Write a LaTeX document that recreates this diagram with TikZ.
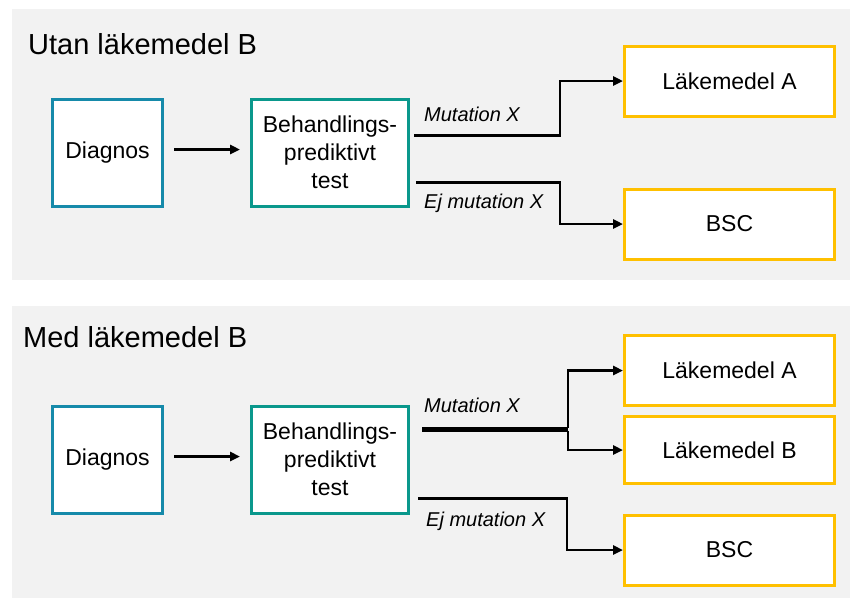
\documentclass[tikz,border=0pt]{standalone}
\usepackage{fontspec}
\setmainfont{Liberation Sans}
\usetikzlibrary{arrows.meta}
\definecolor{panelgray}{RGB}{242,242,242}
\definecolor{diagblue}{RGB}{22,138,170}
\definecolor{testteal}{RGB}{10,152,140}
\definecolor{drugyellow}{RGB}{255,192,0}
\begin{document}
\begin{tikzpicture}[x=1pt, y=-1pt]
        \tikzstyle{box}=[rectangle, draw, fill=white, line width=3pt, inner sep=2pt, font=\fontsize{23}{28}\selectfont, align=center]
        \tikzstyle{diagbox}=[box, draw=diagblue, minimum width=110pt, minimum height=107pt]
        \tikzstyle{testbox}=[box, draw=testteal, minimum width=157pt, minimum height=107pt]
        \tikzstyle{drugbox}=[box, draw=drugyellow, minimum width=210pt, minimum height=70pt]
        \tikzstyle{conn}=[line width=2.8pt, -{Triangle[length=10pt, width=9pt]}]
        \tikzstyle{lbl}=[anchor=west, inner sep=0pt, font=\fontsize{20}{24}\selectfont\itshape]
        \tikzstyle{title}=[anchor=base west, inner sep=0pt, font=\fontsize{29}{34}\selectfont]
        \useasboundingbox (0,0) rectangle (850,598);
        \fill[white] (0,0) rectangle (850,598);
        \fill[panelgray] (12,9) rectangle (850,280);
        \fill[panelgray] (12,306) rectangle (850,598);
        % utan
        \node [title] (title1) at (28,54) {Utan läkemedel B};
        \node [diagbox] (diag1) at (107.5,152.5) {Diagnos};
        \node [testbox] (test1) at (330,152.5) {Behandlings-\\prediktivt\\test};
        \node [drugbox] (drugA1) at (729.5,81) {Läkemedel A};
        \node [drugbox] (bsc1) at (729.5,224) {BSC};
        \node [lbl] (mut1) at (424,114) {Mutation X};
        \node [lbl] (ej1) at (424,203) {Ej mutation X};
        \draw [conn, shorten <=10pt, shorten >=10pt] ([yshift=3pt]diag1.east) -- ([yshift=3pt]test1.west);
        \draw [conn] ([xshift=4pt, yshift=17pt]test1.east) -- ++(146,0) |- (drugA1.west);
        \draw [conn] ([xshift=6pt, yshift=-30pt]test1.east) -- ++(144,0) |- (bsc1.west);
        % med
        \node [title] (title2) at (23,347) {Med läkemedel B};
        \node [diagbox] (diag2) at (107.5,459.5) {Diagnos};
        \node [testbox] (test2) at (330,459.5) {Behandlings-\\prediktivt\\test};
        \node [drugbox] (drugA2) at (729.5,370.5) {Läkemedel A};
        \node [drugbox, minimum height=67pt] (drugB2) at (729.5,450) {Läkemedel B};
        \node [drugbox] (bsc2) at (729.5,550) {BSC};
        \node [lbl] (mut2) at (424,405) {Mutation X};
        \node [lbl] (ej2) at (426,521) {Ej mutation X};
        \draw [conn, shorten <=10pt, shorten >=10pt] ([yshift=3pt]diag2.east) -- ([yshift=3pt]test2.west);
        \draw [line width=4.5pt] ([xshift=12pt, yshift=30pt]test2.east) -- ++(146,0) coordinate (split2);
        \draw [conn] ([yshift=1.2pt]split2) |- (drugA2.west);
        \draw [conn] ([yshift=-1.2pt]split2) |- (drugB2.west);
        \draw [conn] ([xshift=8pt, yshift=-39pt]test2.east) -- ++(149,0) |- (bsc2.west);
\end{tikzpicture}
\end{document}
